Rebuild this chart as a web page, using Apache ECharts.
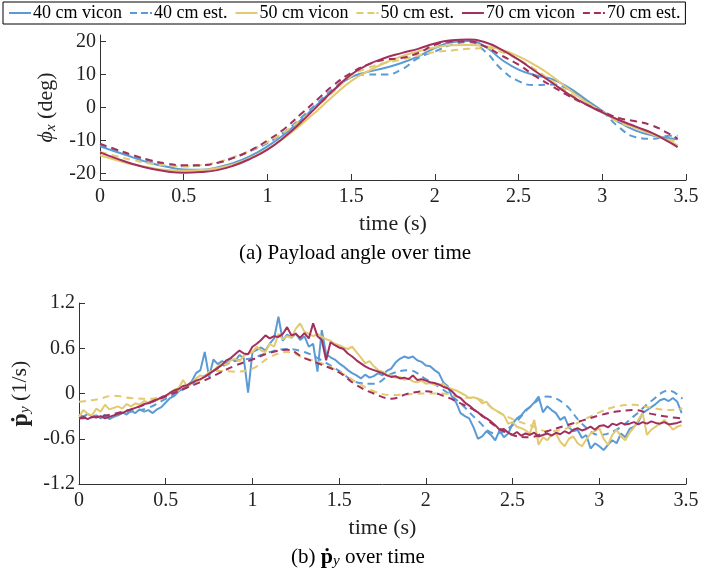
<!DOCTYPE html>
<html>
<head>
<meta charset="utf-8">
<script src="https://cdn.jsdelivr.net/npm/echarts@6/dist/echarts.min.js"></script>
<style>
html, body { margin: 0; padding: 0; background: #fff; }
#chart { width: 725px; height: 578px; }
</style>
</head>
<body>
<div id="chart"></div>
<script>
// ---- data ----
var seriesNames = ['40 cm vicon', '40 cm est.', '50 cm vicon', '50 cm est.', '70 cm vicon', '70 cm est.'];
var xTicks = [0, 0.5, 1, 1.5, 2, 2.5, 3, 3.5];
var phiTicks = [-20, -10, 0, 10, 20];
var pTicks = [-1.2, -0.6, 0, 0.6, 1.2];

// top plot, t = 0, 0.1, ... 3.4, 3.45
var phi40v = [-11.8, -13.5, -15.2, -16.8, -18.0, -18.8, -18.9, -18.2, -16.8, -14.7, -11.8, -8.2, -3.8, 1.0, 5.5, 9.2, 10.8, 12.0, 13.5, 15.5, 18.0, 19.8, 20.2, 18.5, 14.5, 11.5, 9.8, 8.6, 6.0, 2.5, -1.0, -4.5, -7.0, -8.5, -9.3, -9.6];
var phi40e = [-11.5, -13.2, -14.8, -16.2, -17.3, -17.8, -17.6, -16.8, -15.2, -13.2, -10.8, -7.5, -3.2, 1.5, 6.0, 9.3, 10.0, 10.0, 11.5, 15.0, 17.0, 19.0, 19.8, 17.0, 11.5, 8.0, 6.8, 7.0, 5.5, 2.2, -1.2, -6.0, -9.0, -9.5, -8.6, -8.6];
var phi50v = [-14.5, -16.0, -17.3, -18.3, -19.0, -19.2, -19.0, -18.4, -17.2, -15.3, -12.6, -9.2, -5.2, -0.8, 3.8, 8.0, 11.0, 13.5, 15.5, 17.0, 18.2, 18.9, 19.0, 18.6, 17.5, 15.5, 12.8, 9.5, 5.5, 1.8, -1.3, -4.0, -6.2, -8.2, -10.2, -11.5];
var phi50e = [-13.5, -14.8, -16.0, -17.0, -17.6, -17.8, -17.5, -16.6, -15.0, -13.0, -10.5, -7.5, -3.8, 0.5, 5.0, 9.5, 12.0, 13.5, 14.5, 15.8, 16.8, 17.3, 17.8, 18.0, 16.8, 14.5, 11.5, 8.0, 4.5, 1.2, -1.5, -4.5, -6.2, -8.0, -9.8, -10.3];
var phi70v = [-13.6, -15.5, -17.2, -18.5, -19.4, -19.8, -19.6, -19.0, -17.6, -15.5, -12.8, -9.0, -4.5, 0.5, 5.5, 10.0, 13.0, 15.0, 16.5, 17.8, 19.4, 20.4, 20.6, 19.8, 17.5, 14.5, 11.0, 7.5, 4.0, 1.0, -1.5, -3.8, -5.8, -7.8, -10.5, -12.0];
var phi70e = [-11.0, -12.8, -14.5, -16.0, -17.0, -17.5, -17.5, -16.8, -15.2, -13.0, -10.0, -6.5, -2.0, 2.5, 7.0, 10.5, 13.0, 14.5, 15.0, 16.5, 19.0, 20.0, 20.0, 18.5, 15.7, 13.0, 9.5, 6.5, 3.5, 1.0, -1.2, -3.2, -4.2, -5.5, -8.0, -9.5];

// bottom plot, vicon every 0.025 s from 0 to 3.475
var p40v = [-0.28, -0.31, -0.27, -0.30, -0.29, -0.33, -0.28, -0.34, -0.31, -0.29,
	-0.25, -0.28, -0.23, -0.26, -0.21, -0.24, -0.22, -0.26, -0.21, -0.18,
	-0.12, -0.06, -0.03, 0.03, 0.06, 0.11, 0.16, 0.27, 0.31, 0.55,
	0.22, 0.45, 0.39, 0.43, 0.40, 0.46, 0.43, 0.51, 0.47, 0.01,
	0.55, 0.58, 0.61, 0.57, 0.66, 0.73, 1.02, 0.70, 0.78, 0.74,
	0.80, 0.71, 0.76, 0.62, 0.66, 0.29, 0.84, 0.52, 0.48, 0.45,
	0.40, 0.36, 0.31, 0.27, 0.24, 0.20, 0.25, 0.21, 0.23, 0.27,
	0.24, 0.30, 0.33, 0.41, 0.46, 0.49, 0.47, 0.49, 0.44, 0.42,
	0.37, 0.36, 0.31, 0.27, 0.15, 0.10, -0.04, -0.12, -0.26, -0.30,
	-0.33, -0.45, -0.60, -0.57, -0.50, -0.55, -0.62, -0.49, -0.58, -0.53,
	-0.40, -0.33, -0.29, -0.22, -0.18, -0.12, -0.04, -0.25, -0.17, -0.22,
	-0.26, -0.35, -0.31, -0.45, -0.50, -0.48, -0.59, -0.55, -0.73, -0.66,
	-0.70, -0.75, -0.68, -0.62, -0.66, -0.53, -0.58, -0.47, -0.44, -0.38,
	-0.26, -0.22, -0.18, -0.14, -0.09, -0.07, -0.10, -0.06, -0.11, -0.26];
var p50v = [-0.31, -0.22, -0.27, -0.29, -0.20, -0.24, -0.15, -0.21, -0.19, -0.17,
	-0.20, -0.14, -0.17, -0.13, -0.15, -0.10, -0.12, -0.08, -0.09, -0.05,
	-0.03, 0.00, 0.05, 0.07, 0.18, 0.09, 0.14, 0.20, 0.24, 0.22,
	0.29, 0.30, 0.36, 0.40, 0.38, 0.44, 0.46, 0.43, 0.50, 0.53,
	0.55, 0.62, 0.57, 0.55, 0.66, 0.62, 0.79, 0.72, 0.76, 0.74,
	0.86, 0.93, 0.82, 0.79, 0.76, 0.79, 0.75, 0.72, 0.70, 0.66,
	0.64, 0.61, 0.59, 0.62, 0.55, 0.48, 0.40, 0.43, 0.36, 0.31,
	0.29, 0.25, 0.24, 0.21, 0.22, 0.18, 0.20, 0.16, 0.15, 0.17,
	0.13, 0.14, 0.12, 0.11, 0.13, 0.08, 0.06, 0.04, 0.01, -0.02,
	-0.06, -0.05, -0.07, -0.13, -0.11, -0.18, -0.22, -0.25, -0.29, -0.40,
	-0.38, -0.44, -0.46, -0.49, -0.53, -0.35, -0.68, -0.58, -0.62, -0.55,
	-0.53, -0.64, -0.70, -0.60, -0.57, -0.66, -0.70, -0.61, -0.53, -0.50,
	-0.46, -0.60, -0.68, -0.55, -0.48, -0.57, -0.62, -0.52, -0.45, -0.35,
	-0.26, -0.55, -0.48, -0.44, -0.40, -0.35, -0.41, -0.48, -0.44, -0.42];
var p70v = [-0.33, -0.31, -0.34, -0.31, -0.32, -0.30, -0.33, -0.31, -0.29, -0.27,
	-0.26, -0.23, -0.21, -0.19, -0.17, -0.14, -0.13, -0.10, -0.08, -0.05,
	-0.03, 0.01, 0.04, 0.06, 0.10, 0.11, 0.14, 0.17, 0.19, 0.22,
	0.26, 0.30, 0.34, 0.38, 0.44, 0.47, 0.52, 0.57, 0.53, 0.52,
	0.62, 0.66, 0.71, 0.77, 0.73, 0.76, 0.75, 0.79, 0.88, 0.77,
	0.79, 0.74, 0.80, 0.73, 0.93, 0.76, 0.71, 0.44, 0.68, 0.64,
	0.61, 0.59, 0.53, 0.49, 0.44, 0.40, 0.36, 0.33, 0.31, 0.29,
	0.27, 0.24, 0.22, 0.23, 0.20, 0.21, 0.19, 0.24, 0.18, 0.19,
	0.17, 0.15, 0.14, 0.12, 0.09, 0.07, 0.03, -0.03, -0.06, -0.12,
	-0.16, -0.21, -0.25, -0.30, -0.33, -0.37, -0.42, -0.48, -0.47, -0.52,
	-0.55, -0.51, -0.56, -0.53, -0.55, -0.52, -0.57, -0.55, -0.53, -0.56,
	-0.52, -0.54, -0.50, -0.53, -0.48, -0.46, -0.49, -0.47, -0.44, -0.48,
	-0.43, -0.42, -0.45, -0.40, -0.42, -0.39, -0.41, -0.40, -0.38, -0.41,
	-0.38, -0.40, -0.37, -0.39, -0.40, -0.38, -0.41, -0.40, -0.39, -0.37];

// bottom plot estimates, t = 0, 0.1, ... 3.4, 3.48
var p40e = [-0.30, -0.30, -0.29, -0.24, -0.19, -0.07, 0.05, 0.20, 0.33, 0.43, 0.47, 0.55, 0.59, 0.55, 0.44, 0.30, 0.15, 0.13, 0.26, 0.31, 0.19, 0.05, -0.13, -0.36, -0.53, -0.42, -0.18, -0.04, -0.14, -0.40, -0.55, -0.48, -0.30, -0.10, 0.04, -0.07];
var p50e = [-0.11, -0.08, -0.03, -0.06, -0.07, -0.03, 0.07, 0.18, 0.30, 0.29, 0.33, 0.48, 0.55, 0.47, 0.40, 0.29, 0.15, 0.03, -0.02, -0.01, 0.00, 0.00, -0.05, -0.07, -0.22, -0.34, -0.42, -0.50, -0.47, -0.36, -0.25, -0.17, -0.15, -0.19, -0.22, -0.20];
var p70e = [-0.33, -0.31, -0.27, -0.21, -0.13, -0.04, 0.06, 0.15, 0.26, 0.37, 0.45, 0.54, 0.58, 0.47, 0.38, 0.28, 0.11, 0.00, -0.07, 0.00, 0.03, -0.03, -0.13, -0.25, -0.43, -0.55, -0.58, -0.50, -0.43, -0.36, -0.29, -0.24, -0.22, -0.27, -0.31, -0.33];

// ---- time grids ----
function grid01(last) {
	var t = [];
	for (var i = 0; i <= 34; i++) t.push(+(i * 0.1).toFixed(2));
	t.push(last);
	return t;
}
var tTop = grid01(3.45);
var tEst = grid01(3.48);
var tVic = [];
for (var k = 0; k < 140; k++) tVic.push(+(k * 0.025).toFixed(3));

function pairs(ts, vs) {
	var out = [];
	for (var i = 0; i < vs.length; i++) out.push([ts[i], vs[i]]);
	return out;
}

var FONT = 'Liberation Serif';
var TXT = '#222';
var colBlue = '#5b9bd5';
var colYel = '#e3c96f';
var colRed = '#a3305c';

// legend glyphs: solid bar and "- -"
var ICON_SOLID = 'path://M0,0h22v2h-22z';
var ICON_DASH = 'path://M0,0h7v2h-7z M11,0h7v2h-7z M20,0h2v2h-2z';

function mkLine(name, color, dashed, data, idx, smooth) {
	return {
		name: name,
		type: 'line',
		xAxisIndex: idx,
		yAxisIndex: idx,
		data: data,
		symbol: 'none',
		smooth: smooth,
		animation: false,
		lineStyle: { color: color, width: 2, type: dashed ? [7, 5] : 'solid' },
		itemStyle: { color: color }
	};
}

function xAx(idx) {
	return {
		type: 'value', gridIndex: idx, min: 0, max: 3.5, interval: 0.5,
		name: 'time (s)', nameLocation: 'middle', nameGap: 33,
		nameTextStyle: { fontFamily: FONT, fontSize: 22, color: TXT },
		axisLine: { onZero: false, lineStyle: { color: '#333', width: 1 } },
		axisTick: { inside: true, length: 6, lineStyle: { color: '#333' } },
		axisLabel: { fontFamily: FONT, fontSize: 20, color: TXT, margin: 7 },
		splitLine: { show: false }
	};
}

var legendData = [];
for (var n = 0; n < seriesNames.length; n++) {
	legendData.push({ name: seriesNames[n], icon: n % 2 ? ICON_DASH : ICON_SOLID });
}

var option = {
	backgroundColor: '#fff',
	animation: false,
	legend: {
		left: 3, top: 2,
		padding: [2, 5, 2, 6],
		itemGap: 8,
		itemWidth: 22,
		itemHeight: 2,
		borderColor: '#000',
		borderWidth: 1,
		borderRadius: 0,
		data: legendData,
		textStyle: { fontFamily: FONT, fontSize: 18, color: '#000', padding: [0, 0, 0, -3] }
	},
	grid: [
		{ left: 100, top: 35, width: 586, height: 145 },
		{ left: 79, top: 303, width: 607, height: 181 }
	],
	xAxis: [xAx(0), xAx(1)],
	yAxis: [{
		type: 'value', gridIndex: 0, min: -22, max: 22,
		name: '{i|ϕ}{sub|x} (deg)', nameLocation: 'middle', nameGap: 36, nameRotate: 90,
		nameTextStyle: {
			fontFamily: FONT, fontSize: 22, color: TXT,
			rich: {
				i: { fontFamily: FONT, fontSize: 22, fontStyle: 'italic', color: TXT },
				sub: { fontFamily: FONT, fontSize: 15, fontStyle: 'italic', color: TXT, verticalAlign: 'bottom', padding: [9, 0, 0, 0] }
			}
		},
		axisLine: { show: true, onZero: false, lineStyle: { color: '#333', width: 1 } },
		axisTick: { show: true, inside: true, length: 6, customValues: phiTicks, lineStyle: { color: '#333' } },
		axisLabel: { fontFamily: FONT, fontSize: 20, color: TXT, margin: 4, customValues: phiTicks },
		splitLine: { show: false }
	}, {
		type: 'value', gridIndex: 1, min: -1.2, max: 1.2, interval: 0.6,
		name: '{b|ṗ}{sub|y} (1/s)', nameLocation: 'middle', nameGap: 38, nameRotate: 90,
		nameTextStyle: {
			fontFamily: FONT, fontSize: 22, color: TXT,
			rich: {
				b: { fontFamily: FONT, fontSize: 24, fontWeight: 'bold', color: TXT },
				sub: { fontFamily: FONT, fontSize: 15, fontStyle: 'italic', color: TXT, verticalAlign: 'bottom', padding: [9, 0, 0, 0] }
			}
		},
		axisLine: { show: true, onZero: false, lineStyle: { color: '#333', width: 1 } },
		axisTick: { show: true, inside: true, length: 6, lineStyle: { color: '#333' } },
		axisLabel: { fontFamily: FONT, fontSize: 20, color: TXT, margin: 4 },
		splitLine: { show: false }
	}],
	graphic: [{
		type: 'text', x: 355, y: 253,
		style: { text: '(a) Payload angle over time', font: '21px "Liberation Serif"', fill: '#000', align: 'center', verticalAlign: 'middle' }
	}, {
		type: 'text', x: 358, y: 557,
		style: {
			text: '(b) {b|ṗ}{sub|y} over time', font: '21px "Liberation Serif"', fill: '#000', align: 'center', verticalAlign: 'middle',
			rich: {
				b: { font: 'bold 22px "Liberation Serif"', fill: '#000' },
				sub: { font: 'italic 15px "Liberation Serif"', fill: '#000', padding: [8, 0, 0, 0] }
			}
		}
	}],
	series: [
		mkLine(seriesNames[0], colBlue, false, pairs(tTop, phi40v), 0, true),
		mkLine(seriesNames[1], colBlue, true, pairs(tTop, phi40e), 0, true),
		mkLine(seriesNames[2], colYel, false, pairs(tTop, phi50v), 0, true),
		mkLine(seriesNames[3], colYel, true, pairs(tTop, phi50e), 0, true),
		mkLine(seriesNames[4], colRed, false, pairs(tTop, phi70v), 0, true),
		mkLine(seriesNames[5], colRed, true, pairs(tTop, phi70e), 0, true),
		mkLine(seriesNames[0], colBlue, false, pairs(tVic, p40v), 1, false),
		mkLine(seriesNames[1], colBlue, true, pairs(tEst, p40e), 1, 0.4),
		mkLine(seriesNames[2], colYel, false, pairs(tVic, p50v), 1, false),
		mkLine(seriesNames[3], colYel, true, pairs(tEst, p50e), 1, 0.4),
		mkLine(seriesNames[4], colRed, false, pairs(tVic, p70v), 1, false),
		mkLine(seriesNames[5], colRed, true, pairs(tEst, p70e), 1, 0.4)
	]
};

var myChart = echarts.init(document.getElementById('chart'));
myChart.setOption(option);
</script>
</body>
</html>
